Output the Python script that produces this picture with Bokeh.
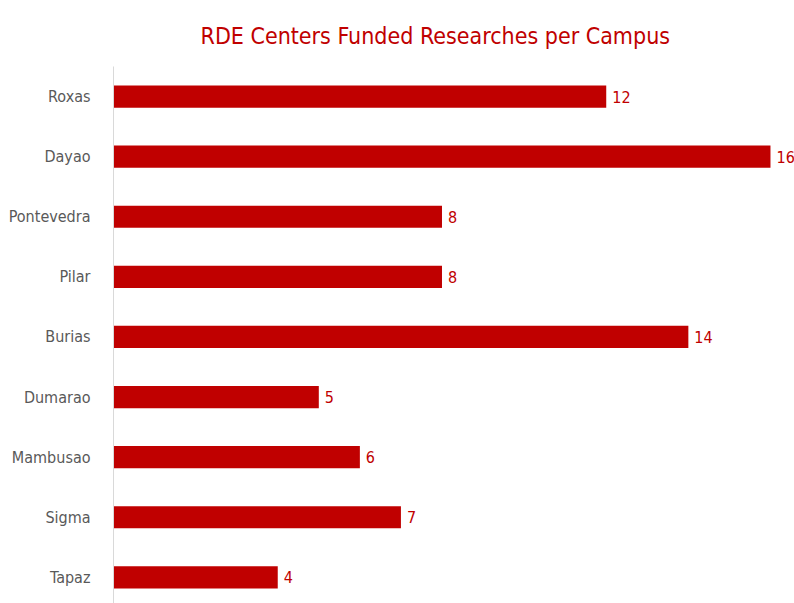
from bokeh.plotting import figure
from bokeh.models import ColumnDataSource, Range1d, FixedTicker
from bokeh.core.properties import value
from bokeh.embed import file_html
from bokeh.resources import INLINE

title_text = "RDE Centers Funded Researches per Campus"
campuses = ["Roxas", "Dayao", "Pontevedra", "Pilar", "Burias", "Dumarao", "Mambusao", "Sigma", "Tapaz"]
counts = [12, 16, 8, 8, 14, 5, 6, 7, 4]

n = len(campuses)
pos = [n - 1 - i for i in range(n)]  # Roxas at top
src = ColumnDataSource(dict(y=pos, v=counts, lab=[str(c) for c in counts], name=campuses))

FONT = "'DejaVu Sans Condensed', 'Roboto Condensed', 'Arial Narrow', sans-serif"
RED = "#c00000"

p = figure(width=794, height=603, output_backend="svg", toolbar_location=None,
           x_range=Range1d(0, 16.585), y_range=Range1d(-0.435, n - 0.5),
           min_border_left=113, min_border_right=0, min_border_top=66, min_border_bottom=0)
p.outline_line_color = None
p.xgrid.visible = False
p.ygrid.visible = False
p.xaxis.visible = False
p.background_fill_color = "white"
p.border_fill_color = "white"

p.hbar(y="y", right="v", left=0, height=0.37, source=src, fill_color=RED, line_color=None)
p.text(x="v", y="y", text="lab", source=src, x_offset=6, text_baseline="middle", text_align="left",
       text_font=value(FONT), text_font_size="16px", text_color=RED)

ax = p.yaxis[0]
ax.ticker = FixedTicker(ticks=pos)
ax.major_label_overrides = {p_: c for p_, c in zip(pos, campuses)}
ax.major_tick_line_color = None
ax.minor_tick_line_color = None
ax.axis_line_color = "#d9d9d9"
ax.axis_line_width = 1
ax.major_label_text_font = FONT
ax.major_label_text_font_size = "16px"
ax.major_label_text_color = "#595959"
ax.major_label_standoff = 17

p.title.text = title_text
p.title.text_font = FONT
p.title.text_font_size = "23px"
p.title.text_font_style = "normal"
p.title.text_color = RED
p.title.align = "left"
p.title.offset = 87
p.title.standoff = 35

open("out.html", "w").write(file_html(p, INLINE))
